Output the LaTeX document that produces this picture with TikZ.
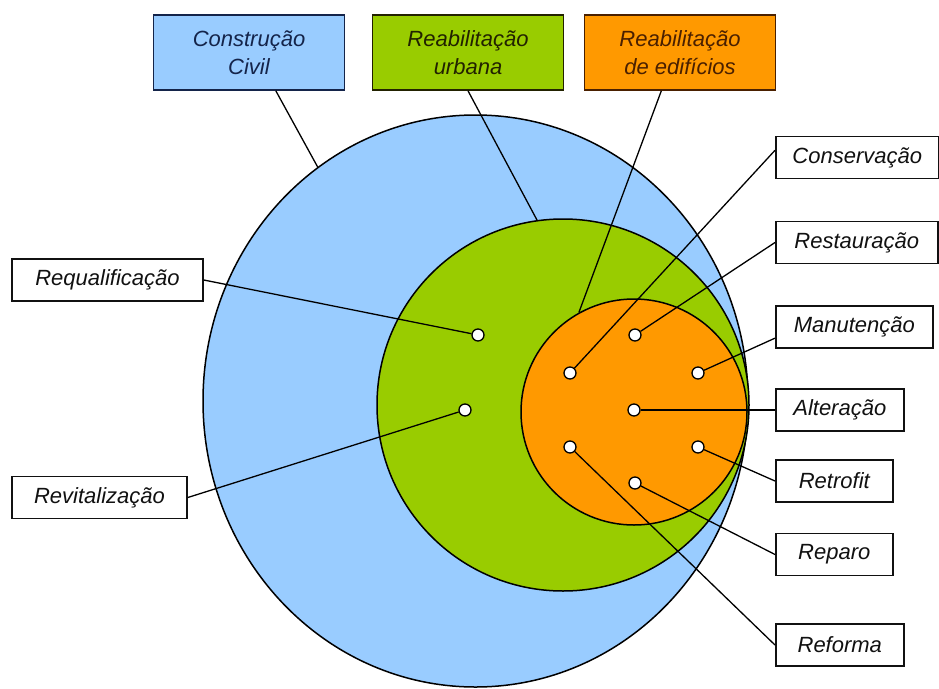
\documentclass[tikz,border=0pt]{standalone}
\usepackage{fontspec}
\setmainfont{Liberation Sans}
\usepackage{tikz}
\usetikzlibrary{positioning,shapes.geometric}
\definecolor{civilblue}{HTML}{99CCFF}
\definecolor{civilline}{HTML}{14244A}
\definecolor{urbgreen}{HTML}{99CC00}
\definecolor{urbline}{HTML}{222200}
\definecolor{ediforange}{HTML}{FF9900}
\definecolor{edifline}{HTML}{4A2000}
\definecolor{labelgray}{HTML}{111111}

\begin{document}
\begin{tikzpicture}[x=1pt,y=-1pt]
\tikzstyle{every node}+=[inner sep=0pt, font=\fontsize{22}{28}\selectfont\itshape]
\tikzstyle{topbox}=[draw, line width=1.6pt, minimum width=191pt, minimum height=75pt, align=center]
\tikzstyle{lbl}=[draw=labelgray, text=labelgray, line width=1.6pt, fill=white, minimum height=42pt]
\tikzstyle{dot}=[circle, draw, line width=1.3pt, fill=white, minimum size=12pt]
\tikzstyle{link}=[line width=1.3pt]
\useasboundingbox (0,0) rectangle (939,688);
\node[ellipse, draw, line width=1.5pt, fill=civilblue, minimum width=545pt, minimum height=572pt] (civilarea) at (475.5,401) {};
\node[circle, draw, line width=1.5pt, fill=urbgreen, minimum size=372pt] (urbarea) at (563,405) {};
\node[circle, draw, line width=1.5pt, fill=ediforange, minimum size=226pt] (edifarea) at (634,412) {};
\node[topbox, fill=civilblue, draw=civilline, text=civilline] (civil) at (249,52.5) {Construção\\Civil};
\node[topbox, fill=urbgreen, draw=urbline, text=urbline] (urb) at (468,52.5) {Reabilitação\\urbana};
\node[topbox, fill=ediforange, draw=edifline, text=edifline] (edif) at (680,52.5) {Reabilitação\\de edifícios};
\draw[link] (civil.-55) -- (civilarea.124);
\draw[link] (urb.south) -- (urbarea.98);
\draw[link] (edif.-116) -- (edifarea.119);
\node[lbl, minimum width=191pt] (requal) at (107.5,280) {Requalificação};
\node[lbl, minimum width=175pt] (revit) at (99.5,497.5) {Revitalização};
\node[lbl, anchor=west, minimum width=163pt] (cons) at (775,157.5) {Conservação};
\node[lbl, anchor=west, minimum width=162pt] (resta) at (775,242.5) {Restauração};
\node[lbl, anchor=west, minimum width=157pt] (manut) at (775,327) {Manutenção};
\node[lbl, anchor=west, minimum width=128pt] (alter) at (775,410) {Alteração};
\node[lbl, anchor=west, minimum width=117pt] (retro) at (775,481) {Retrofit};
\node[lbl, anchor=west, minimum width=117pt] (repar) at (775,554.5) {Reparo};
\node[lbl, anchor=west, minimum width=128pt] (refor) at (775,645) {Reforma};
\node[dot] (requalpt) at (478,335) {};
\node[dot] (revitpt) at (465,410) {};
\node[dot] (conspt) at (570,373) {};
\node[dot] (restapt) at (635,335) {};
\node[dot] (manutpt) at (698,373) {};
\node[dot] (alterpt) at (634,410) {};
\node[dot] (retropt) at (698,447) {};
\node[dot] (reparpt) at (635,483) {};
\node[dot] (reforpt) at (570,447) {};
\draw[link] (requal.east) -- (requalpt);
\draw[link] (revit.east) -- (revitpt);
\draw[link] (cons.175) -- (conspt);
\draw[link] (resta.west) -- (restapt);
\draw[link] (manut.188) -- (manutpt);
\draw[line width=2.8pt] (alterpt) -- (alter.west);
\draw[link] (retro.west) -- (retropt);
\draw[link] (repar.west) -- (reparpt);
\draw[link] (refor.west) -- (reforpt);
\end{tikzpicture}
\end{document}
